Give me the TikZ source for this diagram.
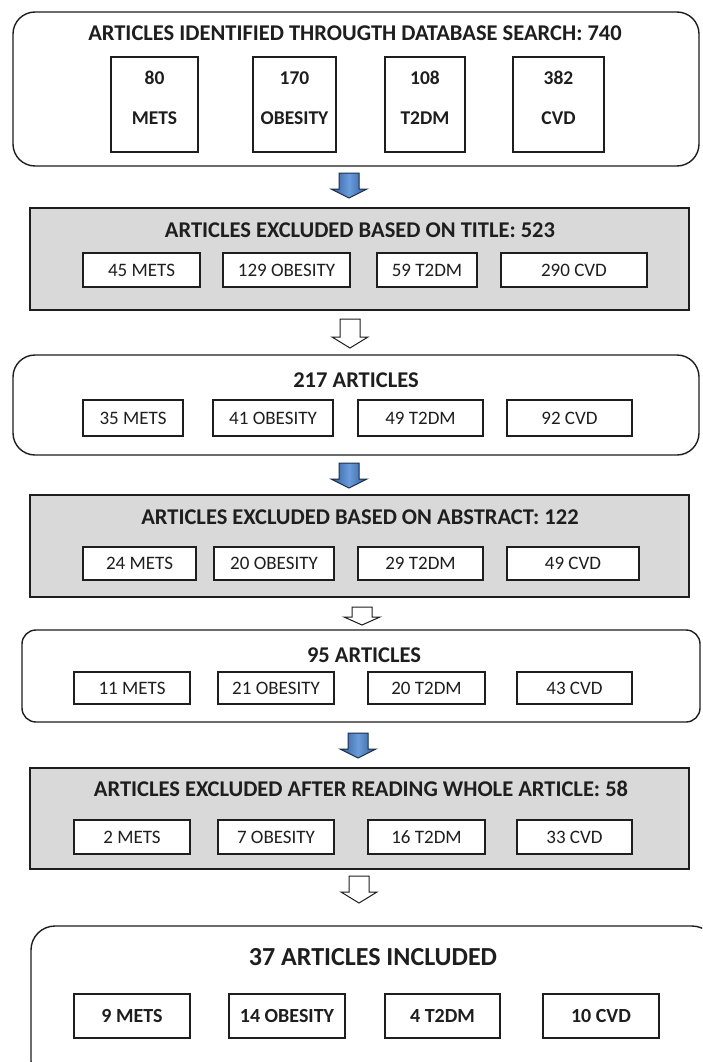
\documentclass[tikz,border=0pt]{standalone}
\usepackage{fontspec}
\setmainfont{Carlito}
\definecolor{lnc}{HTML}{1E1E1E}
\definecolor{grayfill}{HTML}{D9D9D9}
\definecolor{blueA}{HTML}{6A9BDB}
\definecolor{blueB}{HTML}{2F5D97}
\definecolor{blueE}{HTML}{1C2F48}
\tikzset{
  outerbox/.style={draw=lnc, line width=1.4pt, rounded corners=22pt},
  graybox/.style={draw=lnc, line width=1.4pt, fill=grayfill},
  innerbox/.style={draw=lnc, line width=1.2pt, fill=white},
  ttl/.style={font=\bfseries\fontsize{22.5}{26}\selectfont, inner sep=0pt, text=lnc},
  bigttl/.style={font=\bfseries\fontsize{26}{30}\selectfont, inner sep=0pt, text=lnc},
  lbl/.style={font=\fontsize{19}{22}\selectfont, text=lnc},
  blbl/.style={font=\bfseries\fontsize{19.5}{22}\selectfont, text=lnc},
  bblbl/.style={font=\bfseries\fontsize{20}{22}\selectfont, text=lnc},
  bluearrow/.style={draw=blueE, line width=1pt, left color=blueB, right color=blueB, middle color=blueA, line join=miter},
  whitearrow/.style={draw=lnc, line width=1pt, fill=white, line join=miter},
}
% box from corners: name, style, x1, y1, x2, y2, text
\newcommand\rbox[7]{\node[#2, minimum width={(#5)-(#3)}, minimum height={(#6)-(#4)}, inner sep=0pt] (#1) at ({((#3)+(#5))/2},{((#4)+(#6))/2}) {#7};}
% block arrow: name, style, x center, y top, y tip, head length
\newcommand\barrow[6]{%
  \coordinate (#1) at (#3,#5);
  \draw[#2] ({#3-10},#4) -- ({#3+10},#4) -- ({#3+10},{#5-#6}) -- ({#3+18},{#5-#6}) -- (#1) -- ({#3-18},{#5-#6}) -- ({#3-10},{#5-#6}) -- cycle;}
\begin{document}
\begin{tikzpicture}[x=1pt,y=-1pt]
\clip (0,0) rectangle (702,1062);
\fill[white] (0,0) rectangle (702,1062);

% ---- Box 1
\rbox{b1}{outerbox}{13}{12}{699}{166}{}
\node[ttl] (t1) at (355,33) {ARTICLES IDENTIFIED THROUGTH DATABASE SEARCH: 740};
\rbox{b1a}{innerbox}{111}{57}{198}{152}{}
\rbox{b1b}{innerbox}{253}{57}{336}{152}{}
\rbox{b1c}{innerbox}{385}{57}{465}{152}{}
\rbox{b1d}{innerbox}{513}{57}{604}{152}{}
\node[blbl] (n1a) at (b1a |- 0,78) {80};
\node[blbl] (m1a) at (b1a |- 0,118) {METS};
\node[blbl] (n1b) at (b1b |- 0,78) {170};
\node[blbl] (m1b) at (b1b |- 0,118) {OBESITY};
\node[blbl] (n1c) at (b1c |- 0,78) {108};
\node[blbl] (m1c) at (b1c |- 0,118) {T2DM};
\node[blbl] (n1d) at (b1d |- 0,78) {382};
\node[blbl] (m1d) at (b1d |- 0,118) {CVD};

\barrow{a1}{bluearrow}{349}{173}{198}{9}

% ---- Box 2
\rbox{b2}{graybox}{30}{208}{689}{310}{}
\node[ttl] (t2) at (360,230) {ARTICLES EXCLUDED BASED ON TITLE: 523};
\rbox{b2a}{innerbox,lbl}{83}{253}{200}{287}{45 METS}
\rbox{b2b}{innerbox,lbl}{223}{253}{350}{287}{129 OBESITY}
\rbox{b2c}{innerbox,lbl}{377}{253}{477}{287}{59 T2DM}
\rbox{b2d}{innerbox,lbl}{501}{253}{647}{287}{290 CVD}

\barrow{a2}{whitearrow}{350}{319}{348}{11}

% ---- Box 3
\rbox{b3}{outerbox}{13}{355}{699}{455}{}
\node[ttl] (t3) at (356,380) {217 ARTICLES};
\rbox{b3a}{innerbox,lbl}{83}{400}{183}{436}{35 METS}
\rbox{b3b}{innerbox,lbl}{213}{400}{333}{436}{41 OBESITY}
\rbox{b3c}{innerbox,lbl}{358}{400}{483}{436}{49 T2DM}
\rbox{b3d}{innerbox,lbl}{507}{400}{632}{436}{92 CVD}

\barrow{a3}{bluearrow}{349}{463}{488}{9}

% ---- Box 4
\rbox{b4}{graybox}{30}{495}{689}{597}{}
\node[ttl] (t4) at (360,517) {ARTICLES EXCLUDED BASED ON ABSTRACT: 122};
\rbox{b4a}{innerbox,lbl}{83}{547}{196}{580}{24 METS}
\rbox{b4b}{innerbox,lbl}{214}{547}{334}{580}{20 OBESITY}
\rbox{b4c}{innerbox,lbl}{358}{547}{483}{580}{29 T2DM}
\rbox{b4d}{innerbox,lbl}{507}{547}{639}{580}{49 CVD}

\barrow{a4}{whitearrow}{362}{607}{625}{8}

% ---- Box 5
\draw[outerbox, rounded corners=14pt] (22,630) rectangle (700,722);
\coordinate (b5) at (361,676);
\node[ttl] (t5) at (364,655) {95 ARTICLES};
\rbox{b5a}{innerbox,lbl}{74}{672}{190}{704}{11 METS}
\rbox{b5b}{innerbox,lbl}{218}{672}{334}{704}{21 OBESITY}
\rbox{b5c}{innerbox,lbl}{368}{672}{485}{704}{20 T2DM}
\rbox{b5d}{innerbox,lbl}{517}{672}{632}{704}{43 CVD}

\barrow{a5}{bluearrow}{358}{733}{758}{9}

% ---- Box 6
\rbox{b6}{graybox}{30}{768}{689}{869}{}
\node[ttl] (t6) at (361,789) {ARTICLES EXCLUDED AFTER READING WHOLE ARTICLE: 58};
\rbox{b6a}{innerbox,lbl}{74}{820}{190}{854}{2 METS}
\rbox{b6b}{innerbox,lbl}{218}{820}{334}{854}{7 OBESITY}
\rbox{b6c}{innerbox,lbl}{368}{820}{485}{854}{16 T2DM}
\rbox{b6d}{innerbox,lbl}{517}{820}{632}{854}{33 CVD}

\barrow{a6}{whitearrow}{359}{876}{903}{11}

% ---- Box 7
\draw[outerbox, rounded corners=24pt] (31,926) rectangle (716,1085);
\node[bigttl] (t7) at (373,957) {37 ARTICLES INCLUDED};
\rbox{b7a}{innerbox,bblbl}{74}{994}{190}{1038}{9 METS}
\rbox{b7b}{innerbox,bblbl}{229}{994}{345}{1038}{14 OBESITY}
\rbox{b7c}{innerbox,bblbl}{385}{994}{500}{1038}{4 T2DM}
\rbox{b7d}{innerbox,bblbl}{543}{994}{659}{1038}{10 CVD}
\end{tikzpicture}
\end{document}
